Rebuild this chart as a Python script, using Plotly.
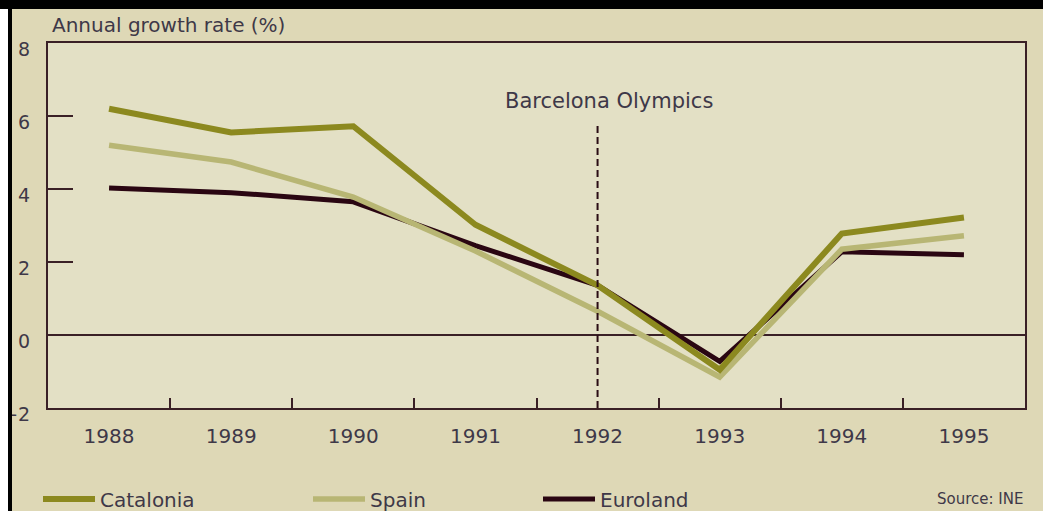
import plotly.graph_objects as go

years = ["1988", "1989", "1990", "1991", "1992", "1993", "1994", "1995"]
catalonia = [6.2, 5.55, 5.72, 3.02, 1.36, -0.95, 2.78, 3.22]
spain = [5.2, 4.74, 3.78, 2.3, 0.65, -1.15, 2.35, 2.72]
euroland = [4.03, 3.9, 3.65, 2.45, 1.36, -0.72, 2.28, 2.2]
event_year = "1992"
event_label = "Barcelona Olympics"
y_title = "Annual growth rate (%)"
source_text = "Source: INE"

W, H = 1043, 511
L, R, T, B = 48, 18, 43, 103
PW, PH = W - L - R, H - T - B

def px_x(p):
    return (p - L) / PW

def px_y(p):
    return (H - B - p) / PH

AX = "#3a2026"
TXT = "#3e3848"
FONT = "DejaVu Sans"

event_idx = years.index(event_year)

fig = go.Figure()
fig.add_trace(go.Scatter(x=years, y=euroland, name="Euroland", mode="lines",
                         line=dict(color="#2a0612", width=5), legend="legend3"))
fig.add_trace(go.Scatter(x=years, y=spain, name="Spain", mode="lines",
                         line=dict(color="#b8b674", width=5.5), legend="legend2"))
fig.add_trace(go.Scatter(x=years, y=catalonia, name="Catalonia", mode="lines",
                         line=dict(color="#8c891f", width=6), legend="legend"))

fig.add_shape(type="line", xref="x", yref="y", x0=event_idx, x1=event_idx,
              y0=-2, y1=5.83, line=dict(color="#2a0c14", width=2, dash="7px,4px"))
fig.add_annotation(xref="x", yref="y", x=event_idx, y=6.4, text=event_label,
                   showarrow=False, xshift=11, font=dict(family=FONT, size=21, color=TXT))
fig.add_annotation(xref="paper", yref="paper", x=px_x(50), y=px_y(25), text=y_title,
                   showarrow=False, xanchor="left", yanchor="middle",
                   font=dict(family=FONT, size=20, color=TXT))
fig.add_annotation(xref="paper", yref="paper", x=1.0, y=px_y(499), text=source_text,
                   showarrow=False, xanchor="right", yanchor="middle",
                   font=dict(family=FONT, size=15, color=TXT))

# frame: top black bar, left white strip and black bar
fig.add_shape(type="rect", xref="paper", yref="paper", x0=px_x(-5), x1=px_x(W + 5),
              y0=px_y(9), y1=px_y(-5), fillcolor="black", line=dict(width=0), layer="above")
fig.add_shape(type="rect", xref="paper", yref="paper", x0=px_x(-5), x1=px_x(8),
              y0=px_y(H + 5), y1=px_y(9), fillcolor="white", line=dict(width=0), layer="above")
fig.add_shape(type="rect", xref="paper", yref="paper", x0=px_x(8), x1=px_x(12),
              y0=px_y(H + 5), y1=px_y(9), fillcolor="black", line=dict(width=0), layer="above")

leg_common = dict(orientation="h", xanchor="left", yanchor="middle", bgcolor="rgba(0,0,0,0)",
                  font=dict(family=FONT, size=20, color=TXT), itemwidth=52, y=px_y(499))

fig.update_layout(
    width=W, height=H,
    margin=dict(l=L, r=R, t=T, b=B, autoexpand=False),
    paper_bgcolor="#ded8b6",
    plot_bgcolor="#e3e0c5",
    showlegend=True,
    legend=dict(x=px_x(38), **leg_common),
    legend2=dict(x=px_x(308), **leg_common),
    legend3=dict(x=px_x(538), **leg_common),
    xaxis=dict(type="category", range=[-0.5, 7.5], tickson="boundaries", ticks="inside",
               ticklen=10, tickwidth=2, tickcolor=AX, showline=True, linecolor=AX,
               linewidth=2, mirror=True, showgrid=False, ticklabelstandoff=9,
               tickfont=dict(family=FONT, size=20, color=TXT)),
    yaxis=dict(range=[-2, 8], dtick=2, ticks="inside", ticklen=25, tickwidth=2,
               tickcolor=AX, showline=True, linecolor=AX, linewidth=2, mirror=True,
               showgrid=False, zeroline=True, zerolinecolor=AX, zerolinewidth=2,
               ticklabelstandoff=12, ticklabelshift=6,
               tickfont=dict(family=FONT, size=19, color=TXT)),
)

fig.write_html("out.html", config={"displayModeBar": False},
               post_script="document.body.style.margin='0';document.body.style.overflow='hidden';")
